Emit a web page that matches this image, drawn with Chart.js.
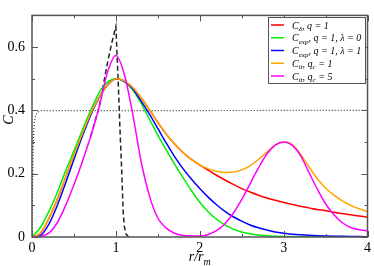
<!DOCTYPE html>
<html>
<head>
<meta charset="utf-8">
<script src="https://cdn.jsdelivr.net/npm/chart.js@4.4.0/dist/chart.umd.min.js"></script>
<style>
  html, body { margin: 0; padding: 0; background: #fff; }
  #wrap { width: 374px; height: 266px; }
</style>
</head>
<body>
<div id="wrap"><canvas id="c" width="374" height="266"></canvas></div>
<script>
// values (x = r/r_m, y = C)
const xGrid = [0, 0.1, 0.2, 0.3, 0.4, 0.5, 0.6, 0.7, 0.8, 0.9, 1.0,
  1.1, 1.2, 1.3, 1.4, 1.5, 1.6, 1.7, 1.8, 1.9, 2.0,
  2.1, 2.2, 2.3, 2.4, 2.5, 2.6, 2.7, 2.8, 2.9, 3.0,
  3.1, 3.2, 3.3, 3.4, 3.5, 3.6, 3.7, 3.8, 3.9, 4.0];

const redC = [0, 0.012, 0.058, 0.118, 0.188, 0.258, 0.326, 0.39, 0.44, 0.48, 0.5,
  0.493, 0.472, 0.44, 0.402, 0.362, 0.325, 0.294, 0.267, 0.245, 0.228,
  0.211, 0.195, 0.18, 0.166, 0.153, 0.142, 0.132, 0.123, 0.116, 0.109,
  0.103, 0.097, 0.092, 0.087, 0.083, 0.078, 0.074, 0.07, 0.066, 0.063];

const greenC = [0, 0.03, 0.08, 0.14, 0.208, 0.272, 0.337, 0.4, 0.455, 0.489, 0.5,
  0.491, 0.465, 0.423, 0.372, 0.322, 0.275, 0.23, 0.188, 0.147, 0.11,
  0.08, 0.056, 0.038, 0.025, 0.016, 0.01, 0.006, 0.004, 0.0025, 0.0015,
  0.001, 0.0007, 0.0005, 0.0003, 0.0002, 0.0001, 0.0001, 0, 0, 0];

const blueC = [0, 0.005, 0.04, 0.099, 0.17, 0.245, 0.318, 0.385, 0.44, 0.48, 0.5,
  0.492, 0.468, 0.43, 0.388, 0.343, 0.297, 0.254, 0.216, 0.183, 0.153,
  0.126, 0.102, 0.081, 0.064, 0.05, 0.038, 0.029, 0.022, 0.016, 0.012,
  0.009, 0.007, 0.0055, 0.0043, 0.0034, 0.0027, 0.0021, 0.0016, 0.0013, 0.001];

const orangeC = [0, 0.012, 0.058, 0.118, 0.188, 0.258, 0.326, 0.39, 0.44, 0.48, 0.5,
  0.493, 0.472, 0.44, 0.402, 0.362, 0.325, 0.294, 0.267, 0.245, 0.228,
  0.216, 0.208, 0.204, 0.205, 0.212, 0.225, 0.245, 0.268, 0.29, 0.3,
  0.293, 0.262, 0.222, 0.185, 0.155, 0.132, 0.114, 0.1, 0.089, 0.08];

const magentaC = [0, 0.002, 0.012, 0.045, 0.099, 0.165, 0.238, 0.318, 0.41, 0.52, 0.573,
  0.515, 0.39, 0.24, 0.13, 0.06, 0.028, 0.012, 0.005, 0.0035, 0.003,
  0.008, 0.02, 0.042, 0.075, 0.118, 0.168, 0.218, 0.262, 0.29, 0.3,
  0.29, 0.258, 0.205, 0.152, 0.105, 0.07, 0.045, 0.03, 0.023, 0.02];

const dashX = [0.7, 0.8, 0.85, 0.9, 0.95, 1.0, 1.025, 1.048, 1.067, 1.087, 1.1, 1.12, 1.15];
const dashY = [0.318, 0.41, 0.48, 0.55, 0.612, 0.665, 0.51, 0.346, 0.227, 0.08, 0.035, 0.01, 0];

const dotX = [0, 0.005, 0.01, 0.015, 0.02, 0.03, 0.045, 0.07, 0.1, 4];
const dotY = [0, 0.12, 0.22, 0.29, 0.33, 0.365, 0.385, 0.395, 0.399, 0.4];

const legendLabels = ['C_{δ}, q = 1', 'C_{exp}, q = 1, λ = 0', 'C_{exp}, q = 1, λ = 1', 'C_{tt}, q_{c} = 1', 'C_{tt}, q_{c} = 5'];

const xTicks = [0, 1, 2, 3, 4];
const xMinor = [0.5, 1.5, 2.5, 3.5];
const yTicks = [0, 0.2, 0.4, 0.6];
const yMinor = [0.1, 0.3, 0.5];

function pts(xs, ys){ return xs.map((x, i) => ({ x, y: ys[i] })); }

function curve(label, xs, ys, color, order, extra){
  return Object.assign({
    label, data: pts(xs, ys), borderColor: color, backgroundColor: color,
    borderWidth: 1.5, pointRadius: 0, fill: false,
    cubicInterpolationMode: 'monotone', order
  }, extra || {});
}

// lower order = drawn on top
const datasets = [
  curve(legendLabels[0], xGrid, redC, '#ff0000', 4),
  curve(legendLabels[1], xGrid, greenC, '#00ee00', 3),
  curve(legendLabels[2], xGrid, blueC, '#0000ff', 2),
  curve(legendLabels[3], xGrid, orangeC, '#ffa500', 1),
  curve(legendLabels[4], xGrid, magentaC, '#ff00ff', 0),
  curve('', dashX, dashY, '#222', 5, { cubicInterpolationMode: 'default', tension: 0, borderDash: [5, 3] }),
  curve('', dotX, dotY, '#333', 6, { cubicInterpolationMode: 'default', tension: 0, borderDash: [1, 2], borderWidth: 1.2 })
];

// draws text with _{...} subscripts
function richText(ctx, str, x, y, size){
  str.split(/(_\{[^}]*\})/).forEach(p => {
    if (!p) return;
    if (p.startsWith('_{')){
      const s = p.slice(2, -1);
      ctx.font = 'italic ' + Math.round(size * 0.7) + 'px "Liberation Serif"';
      ctx.fillText(s, x, y + size * 0.25);
      x += ctx.measureText(s).width;
    } else {
      ctx.font = 'italic ' + size + 'px "Liberation Serif"';
      ctx.fillText(p, x, y);
      x += ctx.measureText(p).width;
    }
  });
  return x;
}

const decor = {
  id: 'decor',
  afterDraw(chart){
    const { ctx, chartArea: a, scales: { x, y } } = chart;
    ctx.save();
    // inward ticks on all four sides
    ctx.strokeStyle = '#555';
    ctx.lineWidth = 1;
    ctx.beginPath();
    const xt = (v, len) => { const p = Math.round(x.getPixelForValue(v)) + 0.5;
      ctx.moveTo(p, a.bottom); ctx.lineTo(p, a.bottom - len); ctx.moveTo(p, a.top); ctx.lineTo(p, a.top + len); };
    const yt = (v, len) => { const p = Math.round(y.getPixelForValue(v)) + 0.5;
      ctx.moveTo(a.left, p); ctx.lineTo(a.left + len, p); ctx.moveTo(a.right, p); ctx.lineTo(a.right - len, p); };
    xTicks.forEach(v => xt(v, 6)); xMinor.forEach(v => xt(v, 3));
    yTicks.forEach(v => yt(v, 6)); yMinor.forEach(v => yt(v, 3));
    ctx.stroke();
    ctx.lineWidth = 1.5;
    ctx.strokeRect(a.left, a.top, a.right - a.left, a.bottom - a.top);

    // legend box
    const lx = 268.5, ly = 17.5, lw = 97, lh = 66;
    ctx.fillStyle = '#fff';
    ctx.fillRect(lx, ly, lw, lh);
    ctx.lineWidth = 1;
    ctx.strokeStyle = '#555';
    ctx.strokeRect(lx, ly, lw, lh);
    ctx.textBaseline = 'alphabetic';
    chart.data.datasets.slice(0, 5).forEach((ds, i) => {
      const yy = 25 + i * 12.75;
      ctx.strokeStyle = ds.borderColor;
      ctx.lineWidth = 1.5;
      ctx.beginPath(); ctx.moveTo(271, yy); ctx.lineTo(284, yy); ctx.stroke();
      ctx.fillStyle = '#000';
      richText(ctx, ds.label, 292, yy + 3.5, 10);
    });

    // axis titles
    ctx.fillStyle = '#000';
    ctx.font = 'italic 14px "Liberation Serif"';
    const w1 = ctx.measureText('r/r').width;
    ctx.font = 'italic 10px "Liberation Serif"';
    const w2 = ctx.measureText('m').width;
    richText(ctx, 'r/r_{m}', (a.left + a.right) / 2 - (w1 + w2) / 2, 261, 14);

    ctx.translate(9, 120);
    ctx.rotate(-Math.PI / 2);
    ctx.font = 'italic 14px "Liberation Serif"';
    ctx.textAlign = 'center';
    ctx.fillText('C', 0, 4);
    ctx.restore();
  }
};

Chart.defaults.font.family = '"Liberation Serif"';
Chart.defaults.font.size = 14;
Chart.defaults.color = '#000';

new Chart(document.getElementById('c'), {
  type: 'line',
  data: { datasets },
  options: {
    responsive: false,
    devicePixelRatio: 1,
    animation: false,
    layout: { padding: { top: 1, right: 6, left: 0, bottom: 0 } },
    plugins: { legend: { display: false }, tooltip: { enabled: false } },
    scales: {
      x: {
        type: 'linear', min: 0, max: 4,
        grid: { display: false, drawTicks: false },
        border: { display: false },
        afterBuildTicks: s => { s.ticks = xTicks.map(v => ({ value: v })); },
        afterFit: s => { s.height = 29; },
        ticks: { padding: 3, maxRotation: 0, callback: v => String(v) }
      },
      y: {
        type: 'linear', min: 0, max: 0.7,
        grid: { display: false, drawTicks: false },
        border: { display: false },
        afterBuildTicks: s => { s.ticks = yTicks.map(v => ({ value: v })); },
        afterFit: s => { s.width = 32; },
        ticks: { padding: 7, callback: v => v === 0 ? '0' : v.toFixed(1) }
      }
    }
  },
  plugins: [decor]
});
</script>
</body>
</html>
